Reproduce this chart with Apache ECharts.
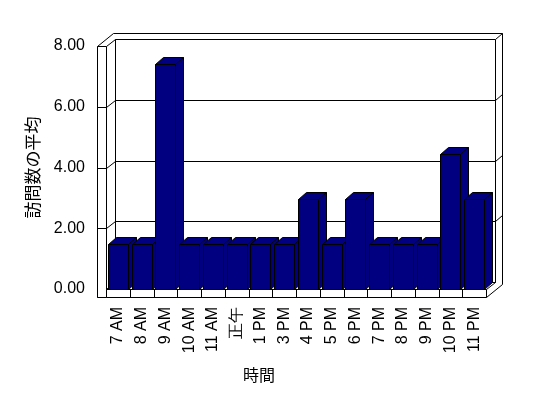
<!DOCTYPE html>
<html>
<head>
<meta charset="utf-8">
<script src="https://cdn.jsdelivr.net/npm/echarts@6/dist/echarts.min.js"></script>
<style>
html, body { margin: 0; padding: 0; background: #fff; }
#chart { width: 548px; height: 398px; }
</style>
</head>
<body>
<div id="chart"></div>
<script>
var hours = ['7 AM', '8 AM', '9 AM', '10 AM', '11 AM', '正午', '1 PM', '3 PM', '4 PM', '5 PM', '6 PM', '7 PM', '8 PM', '9 PM', '10 PM', '11 PM'];
var avgVisits = [1.48, 1.48, 7.41, 1.48, 1.48, 1.48, 1.48, 1.48, 2.96, 1.48, 2.96, 1.48, 1.48, 1.48, 4.44, 2.96];
var yTicks = [0, 2, 4, 6, 8];

// 3D look (pixels)
var DX = 9, DY = -7;        // depth of the box
var BAR_DX = 8, BAR_DY = -7; // depth of a bar
var WALL = 9, FLOOR = 8;    // wall / floor thickness
var BX = 7, BY = -6;        // back wall thickness

var latin = 'Liberation Sans, Arial, sans-serif';
var cjk = 'Noto Sans CJK JP, sans-serif';

function px(x, y) {
    return [Math.round(x) + 0.5, Math.round(y) + 0.5];
}

function poly(points, fill) {
    return {
        type: 'polygon',
        shape: { points: points.map(function (p) { return px(p[0], p[1]); }) },
        style: { fill: fill, stroke: '#000', lineWidth: 1 }
    };
}

function line(points) {
    return {
        type: 'polyline',
        shape: { points: points.map(function (p) { return px(p[0], p[1]); }) },
        style: { fill: null, stroke: '#000', lineWidth: 1 }
    };
}

// walls, floor and grid lines of the box
function renderFrame(params, api) {
    var bw = api.size([1, 0])[0];
    var x0 = api.coord([0, 0])[0] - bw / 2;
    var x1 = api.coord([hours.length - 1, 0])[0] + bw / 2;
    var yb = api.coord([0, yTicks[0]])[1];
    var yt = api.coord([0, yTicks[yTicks.length - 1]])[1];
    var kids = [];

    // outline of the whole slab
    kids.push(poly([
        [x0 - WALL, yt],
        [x0 - WALL + DX + BX, yt + DY + BY],
        [x1 + DX + BX, yt + DY + BY],
        [x1 + DX + BX, yb + FLOOR + DY + BY],
        [x1, yb + FLOOR],
        [x0 - WALL, yb + FLOOR]
    ], '#fff'));
    // back wall
    kids.push(poly([[x0 + DX, yt + DY], [x1 + DX, yt + DY], [x1 + DX, yb + DY], [x0 + DX, yb + DY]], '#fff'));
    kids.push(line([[x1 + DX, yt + DY], [x1 + DX + BX, yt + DY + BY]]));
    // left wall
    kids.push(poly([[x0, yt], [x0 + DX, yt + DY], [x0 + DX, yb + DY], [x0, yb]], '#fff'));
    kids.push(poly([[x0 - WALL, yt], [x0, yt], [x0, yb + FLOOR], [x0 - WALL, yb + FLOOR]], '#fff'));
    // floor
    kids.push(poly([[x0, yb], [x1, yb], [x1 + DX, yb + DY], [x0 + DX, yb + DY]], '#fff'));
    kids.push(poly([[x0, yb], [x1, yb], [x1, yb + FLOOR], [x0, yb + FLOOR]], '#fff'));
    for (var i = 1; i < hours.length; i++) {
        kids.push(line([[x0 + i * bw, yb], [x0 + i * bw, yb + FLOOR]]));
    }
    // grid lines
    for (var k = 1; k < yTicks.length - 1; k++) {
        var y = api.coord([0, yTicks[k]])[1];
        kids.push(line([
            [x0 - WALL, y], [x0, y], [x0 + DX, y + DY],
            [x1 + DX, y + DY], [x1 + DX + BX, y + DY + BY]
        ]));
    }
    return { type: 'group', children: kids };
}

function renderBar(params, api) {
    var base = api.coord([api.value(0), 0]);
    var top = api.coord([api.value(0), api.value(1)]);
    var w = api.size([1, 0])[0] * 0.84;
    var l = base[0] - w / 2, r = base[0] + w / 2;
    var yt = top[1], yb = base[1];
    return {
        type: 'group',
        children: [
            poly([[l, yt], [r, yt], [r, yb], [l, yb]], '#000080'),
            poly([[l, yt], [l + BAR_DX, yt + BAR_DY], [r + BAR_DX, yt + BAR_DY], [r, yt]], '#000080'),
            poly([[r, yt], [r + BAR_DX, yt + BAR_DY], [r + BAR_DX, yb + BAR_DY], [r, yb]], '#000080')
        ]
    };
}

var chart = echarts.init(document.getElementById('chart'));
chart.setOption({
    animation: false,
    backgroundColor: '#fff',
    title: {
        text: '時間',
        left: 243,
        top: 367,
        padding: 0,
        textStyle: { fontFamily: cjk, fontSize: 16, fontWeight: 'normal', color: '#000' }
    },
    grid: { left: 106, right: 62, top: 46, bottom: 109 },
    xAxis: {
        type: 'category',
        data: hours,
        axisLine: { show: false },
        axisTick: { show: false },
        axisLabel: {
            rotate: 90,
            margin: 18,
            interval: 0,
            color: '#000',
            fontSize: 16,
            fontFamily: latin,
            padding: [0, 0, 4, 0]
        }
    },
    yAxis: {
        type: 'value',
        min: 0,
        max: 8,
        interval: 2,
        name: '訪問数の平均',
        nameLocation: 'middle',
        nameGap: 65,
        nameTextStyle: { fontFamily: cjk, fontSize: 17, color: '#000' },
        axisLine: { show: false },
        axisTick: { show: false },
        splitLine: { show: false },
        axisLabel: {
            margin: 21,
            color: '#000',
            fontSize: 16,
            fontFamily: latin,
            formatter: function (v) { return v.toFixed(2); }
        }
    },
    series: [
        {
            type: 'custom',
            name: 'frame',
            clip: false,
            silent: true,
            z: 1,
            renderItem: renderFrame,
            data: [[0, 0]]
        },
        {
            type: 'custom',
            name: '訪問数の平均',
            clip: false,
            z: 2,
            renderItem: renderBar,
            data: avgVisits.map(function (v, i) { return [i, v]; })
        }
    ]
});
</script>
</body>
</html>
